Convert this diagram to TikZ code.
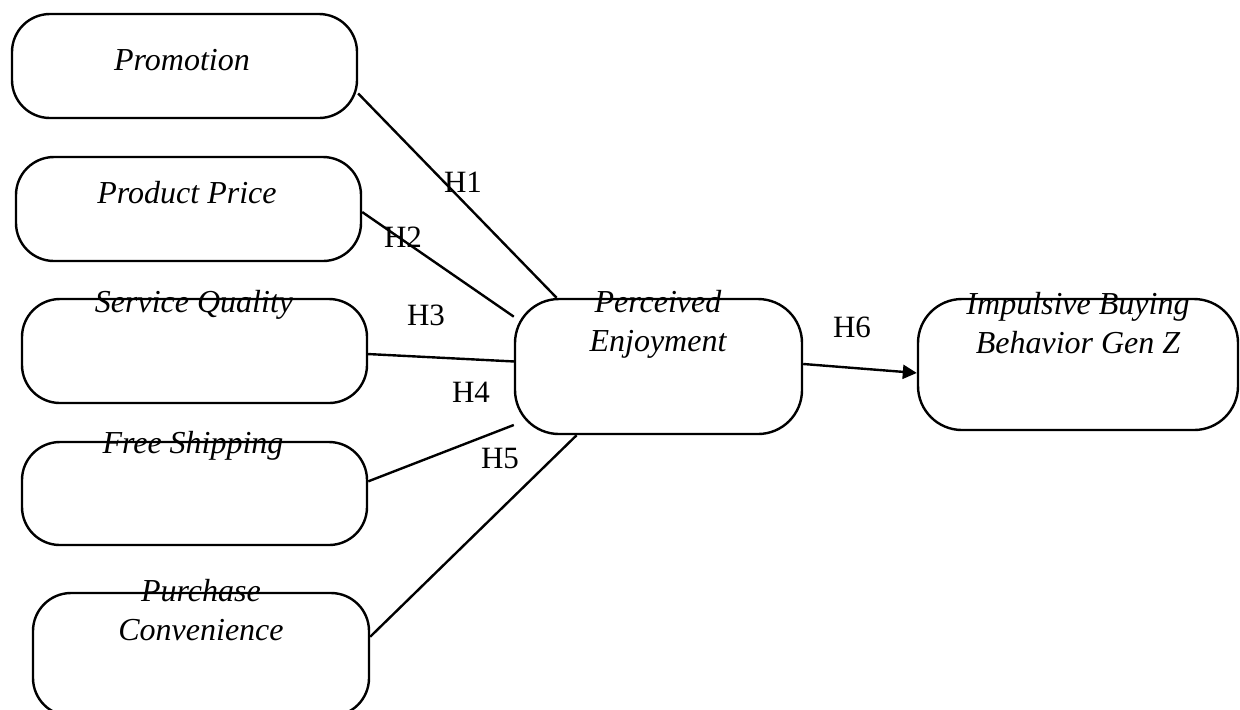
\documentclass[tikz,border=0pt]{standalone}
\usepackage{fontspec}
\setmainfont{Liberation Serif}
\usetikzlibrary{arrows.meta}

\begin{document}
\begin{tikzpicture}[x=0.5pt, y=-0.5pt,
    varbox/.style={draw=black, line width=1.2pt, rounded corners=19pt, inner sep=0pt},
    vartext/.style={anchor=base, align=center, inner sep=0pt, font=\fontsize{16}{19.5}\selectfont\itshape},
    hyplabel/.style={inner sep=0pt, font=\fontsize{15.5}{19.5}\selectfont},
    linkline/.style={draw=black, line width=1.2pt}]
    \clip (0,0) rectangle (1240,709);
    \node[varbox, minimum width=172.5pt, minimum height=52pt] (promo) at (184.5,66) {};
    \node[varbox, minimum width=172.5pt, minimum height=52pt] (price) at (188.5,209) {};
    \node[varbox, minimum width=172.5pt, minimum height=52pt] (service) at (194.5,351) {};
    \node[varbox, minimum width=172.5pt, minimum height=51.5pt] (shipping) at (194.5,493.5) {};
    \node[varbox, minimum width=168pt, minimum height=61.5pt] (conv) at (201,654.5) {};
    \node[varbox, minimum width=143.5pt, minimum height=67.5pt, rounded corners=22pt] (pe) at (658.5,366.5) {};
    \node[varbox, minimum width=160pt, minimum height=65.5pt, rounded corners=22pt] (ib) at (1078,364.5) {};
    \node[vartext] (promoT) at (182,70) {Promotion};
    \node[vartext] (priceT) at (187,203) {Product Price};
    \node[vartext] (serviceT) at (194,312) {Service Quality};
    \node[vartext] (shippingT) at (193,453) {Free Shipping};
    \node[vartext] (convT) at (201,640) {Purchase\\Convenience};
    \node[vartext] (peT) at (658,351) {Perceived\\Enjoyment};
    \node[vartext] (ibT) at (1078,353) {Impulsive Buying\\Behavior Gen Z};
    \draw[linkline] (promo.-9) -- (pe.146);
    \draw[linkline] (price.-1) -- (pe.161);
    \draw[linkline] (service.-1) -- (pe.178);
    \draw[linkline] (shipping.4) -- (pe.202);
    \draw[linkline] (conv.6) -- (pe.220);
    \draw[linkline, -{Triangle[length=7pt, width=7pt]}] (pe.1) -- (ib.183);
    \node[hyplabel] (h1) at (463,182) {H1};
    \node[hyplabel] (h2) at (403,237) {H2};
    \node[hyplabel] (h3) at (426,315) {H3};
    \node[hyplabel] (h4) at (471,392) {H4};
    \node[hyplabel] (h5) at (500,458) {H5};
    \node[hyplabel] (h6) at (852,327) {H6};
\end{tikzpicture}
\end{document}
